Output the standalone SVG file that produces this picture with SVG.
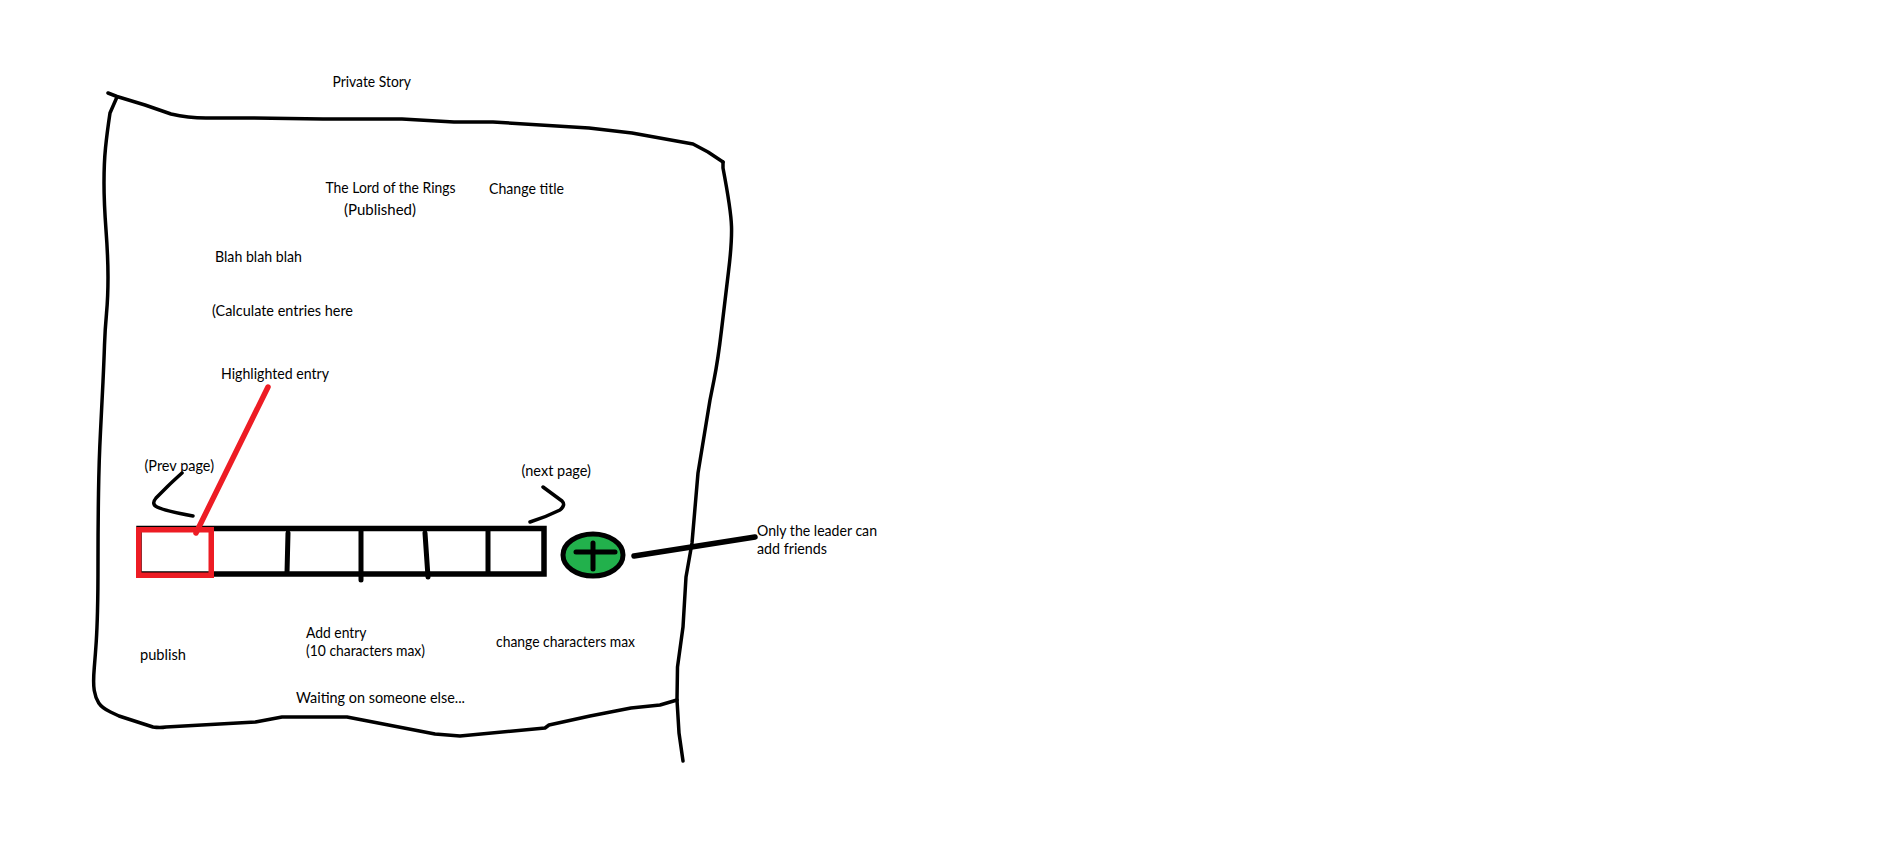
<svg xmlns="http://www.w3.org/2000/svg" width="1896" height="851" viewBox="0 0 1896 851">
<style>
text{font-family:"Lato","Liberation Sans",Arial,sans-serif;font-size:14.670px;fill:#000}
.ink{fill:none;stroke:#000;stroke-linecap:round;stroke-linejoin:round}
.thin{stroke-width:3.500}
.med{stroke-width:5}
.thick{stroke-width:5.500}
</style>
<rect width="1896" height="851" fill="#fff"/>
<g id="outline">
<path class="ink thin" d="M108 93L117 96.500L145 105L171 114Q188 118 206 118L254 118L323 119L402 119L454 122L493 122L589 128L632 133L693 144L708 152L723 162"/>
<path class="ink thin" d="M117 97L110 113Q107 133 105.500 148Q104 163 104 183Q104 203 106 230Q108 257 108 277Q108 297 106.500 313.500Q105 330 104.500 345Q104 360 103 381.500Q102 403 100.500 431.500Q99 460 98.500 493.500Q98 527 98 560Q98 593 97.500 611Q97 630 96.250 641.500Q95.500 653 94.250 668Q93 683 94.250 690.500Q95.500 698 98.750 703Q102 708 110.500 712L119 716L153 727Q160 728 166 727L255.500 722L282 717L347 717L435 734L460 736L545 728L549 725L590 716L631 708L660 705L677 700"/>
<path class="ink thin" d="M723 162L723 168Q731 210 731.500 226.500Q732 243 728.500 271.500Q725 300 721.500 330Q718 360 714 380L710 400L698 473L692 543L686 577L683 627L677.500 667L677 700L679 733L683 761"/>
</g>
<g id="entry-bar">
<rect x="139" y="528.500" width="405" height="45.500" fill="#fff" stroke="#000" stroke-width="5.500"/>
<path class="ink med" d="M288 533L287 573M361 530L361 580M425 533L428 577M488 530L488 573"/>
</g>
<g id="prev-page">
<path class="ink thin" d="M182 473Q172 482 167 487L156 498Q151 504 157 507Q165 511 193 516"/>
<text x="144.500" y="470.500" textLength="69.500" lengthAdjust="spacingAndGlyphs">(Prev page)</text>
</g>
<g id="next-page">
<path class="ink thin" d="M543 487L562 501Q566 505 560 510Q546 517 530 522"/>
<text x="521.500" y="475.500" textLength="69.500" lengthAdjust="spacingAndGlyphs">(next page)</text>
</g>
<g id="highlight">
<rect x="138.750" y="529.750" width="72.500" height="45.500" fill="none" stroke="#ed1c24" stroke-width="5.500"/>
<path fill="none" stroke="#ed1c24" stroke-width="5.500" stroke-linecap="round" d="M268 387L196 533"/>
<text x="221" y="378.500" textLength="108" lengthAdjust="spacingAndGlyphs">Highlighted entry</text>
</g>
<g id="add-friend">
<ellipse cx="593" cy="555" rx="30" ry="21" fill="#22b14c" stroke="#000" stroke-width="5"/>
<path class="ink med" d="M576 552L615 552M593 543L593 569"/>
</g>
<g id="connectors">
<path class="ink thick" d="M634 556L755 537"/>
</g>
<g id="labels">
<text x="332.500" y="86.500" textLength="78.500" lengthAdjust="spacingAndGlyphs">Private Story</text>
<text x="325.500" y="192.500" textLength="130" lengthAdjust="spacingAndGlyphs">The Lord of the Rings</text>
<text x="344" y="214.500" textLength="72" lengthAdjust="spacingAndGlyphs">(Published)</text>
<text x="489" y="193.500" textLength="75" lengthAdjust="spacingAndGlyphs">Change title</text>
<text x="215" y="261.500" textLength="87" lengthAdjust="spacingAndGlyphs">Blah blah blah</text>
<text x="212" y="315.500" textLength="141" lengthAdjust="spacingAndGlyphs">(Calculate entries here</text>
<text x="757" y="536" textLength="120" lengthAdjust="spacingAndGlyphs">Only the leader can</text>
<text x="757" y="554" textLength="70" lengthAdjust="spacingAndGlyphs">add friends</text>
<text x="140" y="660" textLength="46" lengthAdjust="spacingAndGlyphs">publish</text>
<text x="306" y="637.500" textLength="60.500" lengthAdjust="spacingAndGlyphs">Add entry</text>
<text x="306" y="655.500" textLength="119" lengthAdjust="spacingAndGlyphs">(10 characters max)</text>
<text x="496" y="646.500" textLength="139" lengthAdjust="spacingAndGlyphs">change characters max</text>
<text x="296" y="702.500" textLength="169" lengthAdjust="spacingAndGlyphs">Waiting on someone else...</text>
</g>
</svg>
